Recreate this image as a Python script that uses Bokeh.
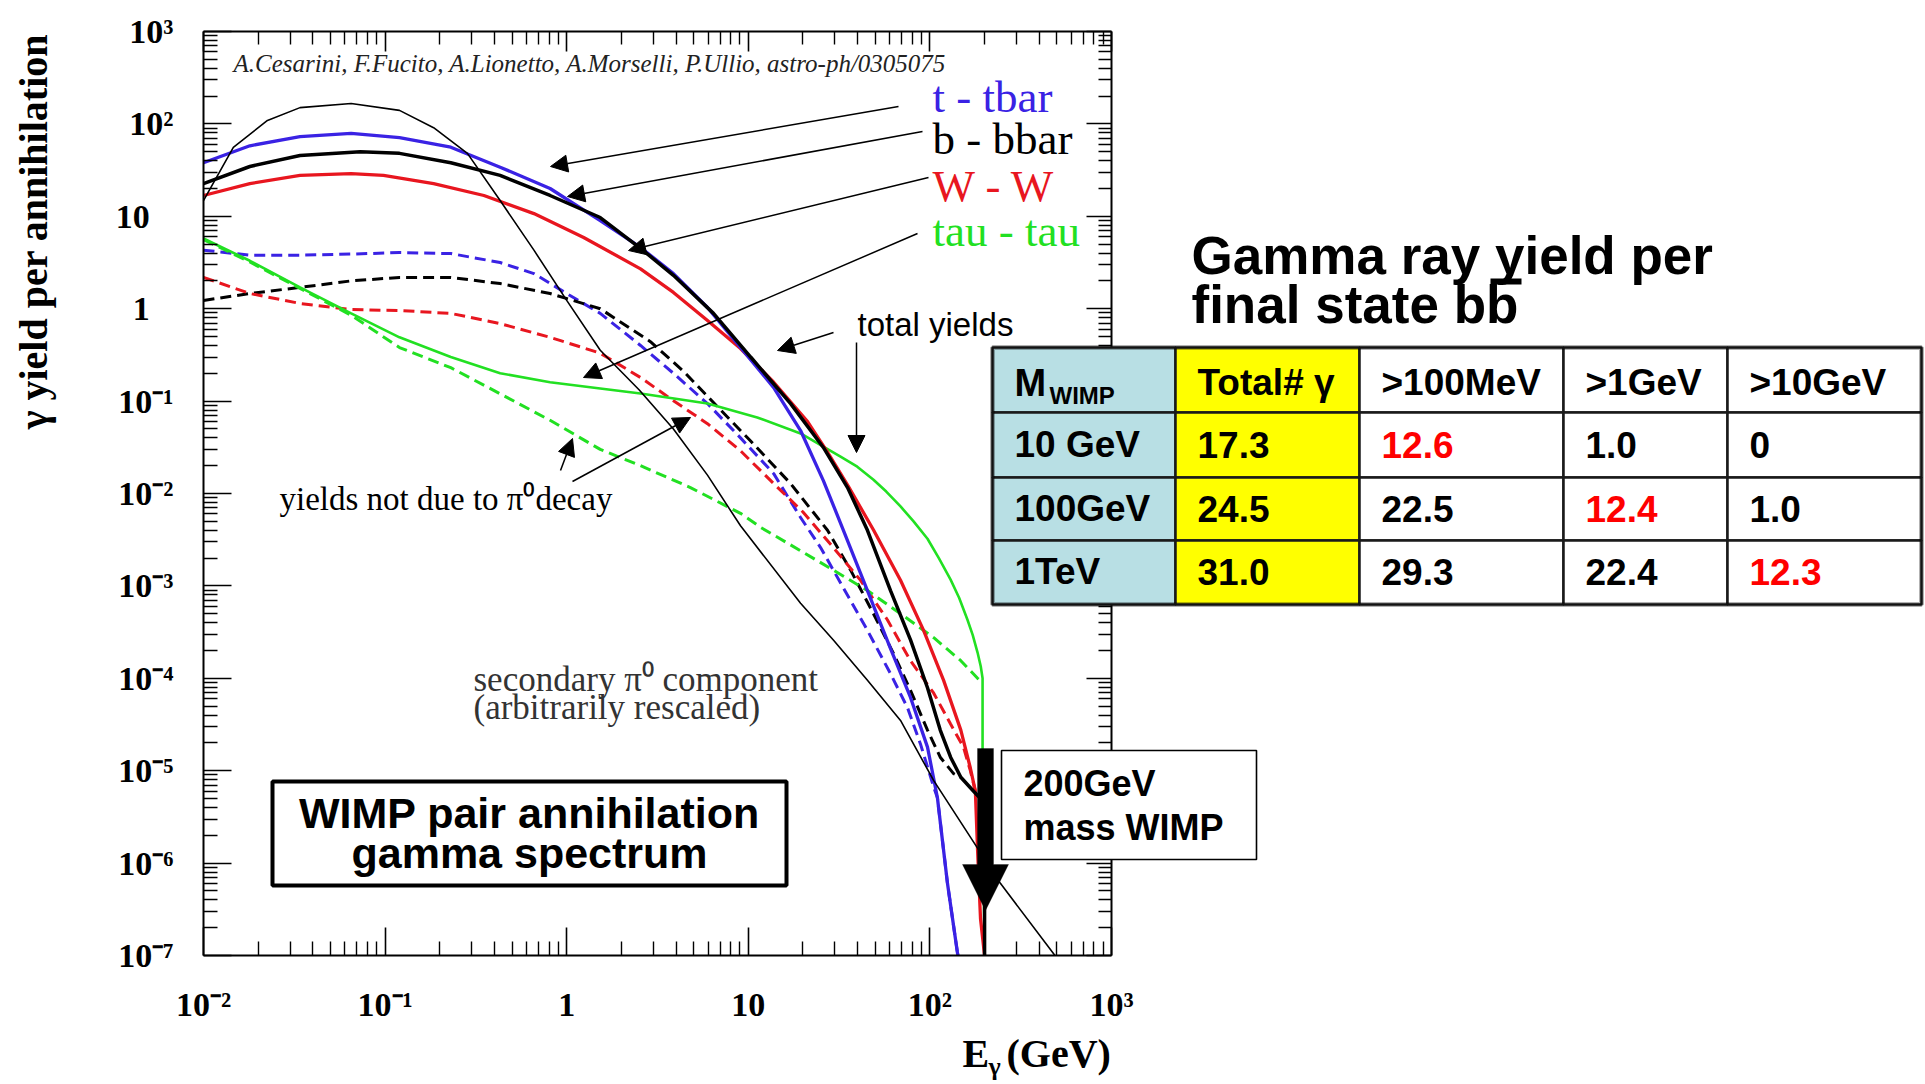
from bokeh.plotting import figure
from bokeh.models import (FixedTicker, LogAxis, CustomJSTickFormatter, Label,
                          BoxAnnotation, PolyAnnotation, Arrow, NormalHead)
from bokeh.embed import file_html
from bokeh.resources import INLINE

# ---------------- data ----------------
# total yields (solid)
tt_e = [0.01, 0.018, 0.034, 0.065, 0.12, 0.23, 0.43, 0.81, 1.53, 2.55, 3.87, 5.96, 9.06, 13.8,
        19.4, 25.9, 33.4, 45.3, 60.7, 78.2, 97.0, 110, 125, 142, 143]
tt_y = [38, 58, 73, 79, 71, 56, 34, 20, 9.0, 4.6, 2.4, 1.03, 0.38, 0.14,
        0.048, 0.0138, 0.0040, 8.9e-4, 2.1e-4, 6.2e-5, 1.8e-5, 5.1e-6, 6.0e-7, 1.05e-7, 1e-7]

bb_e = [0.01, 0.018, 0.034, 0.073, 0.12, 0.23, 0.43, 0.81, 1.53, 2.55, 3.87, 6.43, 10.3, 17.1,
        25.9, 35.2, 45.3, 60.7, 78.2, 97, 114, 130, 148, 174, 200, 200]
bb_y = [22.6, 34.6, 45.5, 50, 48, 38, 27.7, 16.8, 9.7, 4.5, 2.3, 0.89, 0.30, 0.094,
        0.0315, 0.0116, 0.0040, 8.9e-4, 2.6e-4, 7.9e-5, 2.75e-5, 1.4e-5, 8.5e-6, 6.0e-6, 4.5e-6, 1e-7]

ww_e = [0.01, 0.018, 0.034, 0.065, 0.098, 0.185, 0.35, 0.66, 1.24, 2.55, 3.87, 5.96, 9.06, 13.8,
        21.2, 27.3, 35.5, 49, 68.9, 92.3, 119, 148, 167, 178, 183, 190, 200]
ww_y = [16.8, 22.6, 27.7, 29, 27.7, 22.6, 16.8, 10.7, 5.9, 2.7, 1.5, 0.745, 0.37, 0.16,
        0.060, 0.028, 0.012, 0.0040, 0.00115, 3.3e-4, 9.5e-5, 2.75e-5, 1.07e-5, 6.0e-6, 1.4e-6, 2.5e-7, 1e-7]

tau_e = [0.01, 0.018, 0.034, 0.065, 0.12, 0.23, 0.43, 0.81, 1.53, 2.55, 5.96, 11.2, 19.4, 32.2,
         39.8, 48.9, 57.5, 68.9, 81.3, 97, 112, 130, 145, 161, 172, 183, 190.5, 195, 195, 200]
tau_y = [5.75, 3.3, 1.7, 0.89, 0.49, 0.30, 0.20, 0.16, 0.137, 0.121, 0.094, 0.0665, 0.0447, 0.0251,
         0.0195, 0.0141, 0.0105, 0.00724, 0.0050, 0.00324, 0.0020, 0.00117, 7.4e-4, 4.3e-4, 2.95e-4,
         1.9e-4, 1.35e-4, 1.0e-4, 1.8e-5, 1e-7]

# yields not due to pi0 decay (dashed)
ttd_e = [0.01, 0.018, 0.034, 0.065, 0.12, 0.23, 0.43, 0.66, 1.0, 1.53, 2.55, 3.87, 5.96, 9.06,
         13.8, 19.4, 25, 33.4, 45.3, 60.7, 75.3, 88.7, 101, 105, 110, 125, 142, 143]
ttd_y = [4.3, 3.8, 3.8, 3.9, 4.05, 3.95, 3.16, 2.4, 1.46, 0.89, 0.40, 0.20, 0.094, 0.040,
         0.0164, 0.0055, 0.0026, 9.5e-4, 3.3e-4, 1.12e-4, 4.8e-5, 1.95e-5, 8.5e-6, 6.6e-6, 5.1e-6,
         6.0e-7, 1.05e-7, 1e-7]

bbd_e = [0.01, 0.018, 0.034, 0.065, 0.12, 0.23, 0.43, 0.81, 1.53, 2.89, 4.4, 6.76, 10.3, 17.1,
         27.3, 36.6, 48.9, 63, 78.2, 97, 114, 135, 148]
bbd_y = [1.23, 1.46, 1.7, 2.0, 2.18, 2.18, 1.87, 1.46, 1.0, 0.44, 0.21, 0.087, 0.037, 0.0128,
         0.0040, 0.00148, 5.0e-4, 1.86e-4, 7.4e-5, 2.75e-5, 1.4e-5, 9.3e-6, 8.5e-6]

wwd_e = [0.01, 0.018, 0.034, 0.065, 0.12, 0.23, 0.43, 0.81, 1.53, 2.55, 3.87, 5.96, 9.06, 13.8,
         20, 29.4, 41.5, 58.3, 78.2, 105, 130, 153, 167, 178]
wwd_y = [2.18, 1.46, 1.14, 0.98, 0.955, 0.89, 0.69, 0.49, 0.33, 0.18, 0.101, 0.057, 0.029, 0.0128,
         0.0063, 0.0026, 0.00115, 4.3e-4, 1.55e-4, 6.9e-5, 3.2e-5, 1.8e-5, 1.0e-5, 6.0e-6]

taud_e = [0.01, 0.018, 0.034, 0.065, 0.12, 0.23, 0.43, 0.81, 1.53, 2.55, 4.8, 9.06, 11.7, 19.4,
          29.4, 45.3, 68.9, 105, 148, 183, 195]
taud_y = [5.6, 3.2, 1.66, 0.85, 0.38, 0.23, 0.12, 0.062, 0.030, 0.020, 0.0116, 0.0061, 0.0043, 0.0024,
          0.00148, 8.9e-4, 5.0e-4, 2.75e-4, 1.55e-4, 1.0e-4, 9.0e-5]

# secondary pi0 component (arbitrarily rescaled)
sec_e = [0.01, 0.0146, 0.0225, 0.034, 0.065, 0.12, 0.185, 0.284, 0.43, 0.66, 1.0, 1.53, 2.51, 3.87,
         5.96, 9.06, 19.4, 29.4, 45.3, 68.9, 105, 245, 479, 488]
sec_y = [14.8, 55.6, 109, 150, 166, 140, 91, 48, 14.8, 4.3, 1.23, 0.355, 0.132, 0.050,
         0.0158, 0.00447, 6.5e-4, 2.6e-4, 9.5e-5, 3.5e-5, 7.8e-6, 6.0e-7, 1.05e-7, 1e-7]

# ticks
x_decades = [1e-2, 1e-1, 1e0, 1e1, 1e2, 1e3]
y_decades = [1e-7, 1e-6, 1e-5, 1e-4, 1e-3, 1e-2, 1e-1, 1e0, 1e1, 1e2, 1e3]

# table
table_title = ["Gamma ray yield per", "final state bb"]
table_header = ["Total# \u03b3", ">100MeV", ">1GeV", ">10GeV"]
wimp_mass = ["10 GeV", "100GeV", "1TeV"]
total_gamma = ["17.3", "24.5", "31.0"]
above_100mev = ["12.6", "22.5", "29.3"]
above_1gev = ["1.0", "12.4", "22.4"]
above_10gev = ["0", "1.0", "12.3"]
highlight_col = [2, 3, 4]

# ---------------- layout ----------------
W, H = 1925, 1084
FL, FR, FT, FB = 203, 1111, 31, 955          # where the axes box sits on the page
XMIN, XMAX, YMIN, YMAX = -2, 3, -7, 3         # log10 limits of the axes box


def X(px):
    return 10 ** (XMIN + (XMAX - XMIN) * (px - FL) / (FR - FL))


def Y(py):
    return 10 ** (YMAX - (YMAX - YMIN) * (py - FT) / (FB - FT))


BLUE = "#3a22e4"
RED = "#e8161f"
GREEN = "#22e022"
SERIF = "Liberation Serif"
SANS = "Liberation Sans"

# the frame fills the page; the four log axes are pinned at the box edges
p = figure(width=W, height=H, x_axis_type="log", y_axis_type="log",
           x_axis_location=None, y_axis_location=None,
           x_range=(X(0), X(W)), y_range=(Y(H), Y(0)),
           min_border_left=0, min_border_right=0, min_border_top=0, min_border_bottom=0,
           output_backend="svg", toolbar_location=None)
p.background_fill_color = "white"
p.border_fill_color = "white"
p.outline_line_color = None
p.grid.visible = False

FMT = """
const e = Math.round(Math.log10(tick));
const sup = {"-": "\u207b", "0": "\u2070", "1": "\u00b9", "2": "\u00b2", "3": "\u00b3", "4": "\u2074",
             "5": "\u2075", "6": "\u2076", "7": "\u2077", "8": "\u2078", "9": "\u2079"};
if (e === 0) return "1" + PAD;
if (e === 1) return "10" + PAD;
return "10" + String(e).split("").map(c => sup[c]).join("");
"""

x_minor = [m * d for d in x_decades[:-1] for m in range(2, 10)]
y_minor = [m * d for d in y_decades[:-1] for m in range(2, 10)]
x_bounds = (x_decades[0], x_decades[-1])
y_bounds = (y_decades[0], y_decades[-1])


def make_axis(side, ticks, minor, bounds, loc, major_in, minor_in, pad=None):
    ax = LogAxis(ticker=FixedTicker(ticks=ticks, minor_ticks=minor), bounds=bounds,
                 fixed_location=loc)
    if pad is None:
        ax.formatter = CustomJSTickFormatter(code="return '';")
        ax.major_label_text_font_size = "0px"
        ax.major_label_standoff = 0
    else:
        ax.formatter = CustomJSTickFormatter(code=f"const PAD = '{pad}';" + FMT)
        ax.major_label_text_font = SERIF
        ax.major_label_text_font_style = "bold"
        ax.major_label_text_font_size = "34px"
        ax.major_label_text_color = "black"
        ax.major_label_standoff = 30
    ax.axis_line_width = 2
    ax.axis_line_color = "black"
    ax.major_tick_in = major_in
    ax.major_tick_out = 0
    ax.minor_tick_in = minor_in
    ax.minor_tick_out = 0
    ax.major_tick_line_width = 1.6
    ax.minor_tick_line_width = 1.4
    ax.major_tick_line_color = "black"
    ax.minor_tick_line_color = "black"
    p.add_layout(ax, side)


make_axis("below", x_decades, x_minor, x_bounds, y_bounds[0], 28, 14, pad="")
make_axis("left", y_decades, y_minor, y_bounds, x_bounds[0], 28, 14, pad="\\u2009\\u2007")
make_axis("above", x_decades, x_minor, x_bounds, y_bounds[1], 20, 13)
make_axis("right", y_decades, y_minor, y_bounds, x_bounds[1], 25, 13)

# ---------------- curves ----------------
DASH = "11 6"
p.line(ttd_e, ttd_y, line_color=BLUE, line_width=3, line_dash=DASH)
p.line(bbd_e, bbd_y, line_color="black", line_width=3, line_dash=DASH)
p.line(wwd_e, wwd_y, line_color=RED, line_width=3, line_dash=DASH)
p.line(taud_e, taud_y, line_color=GREEN, line_width=3, line_dash=DASH)
p.line(tau_e, tau_y, line_color=GREEN, line_width=2.6)
p.line(ww_e, ww_y, line_color=RED, line_width=3.3)
p.line(tt_e, tt_y, line_color=BLUE, line_width=3.3)
p.line(bb_e, bb_y, line_color="black", line_width=3.5)
p.line(sec_e, sec_y, line_color="black", line_width=1.6)


# ---------------- annotations ----------------
def label(px, py, text, size, color="black", font=SERIF, style="normal", align="left", angle=0):
    p.add_layout(Label(x=X(px), y=Y(py), text=text, text_font=font, text_font_size=f"{size}px",
                       text_font_style=style, text_color=color, text_align=align,
                       text_baseline="middle", angle=angle, angle_units="deg"))


def arrow(x0, y0, x1, y1):
    p.add_layout(Arrow(end=NormalHead(size=17, fill_color="black", line_color="black", line_width=1),
                       x_start=X(x0), y_start=Y(y0), x_end=X(x1), y_end=Y(y1),
                       line_width=1.5, line_color="black"))


def box(l, t, r, b, fill="white", lw=2.0, lc="black"):
    p.add_layout(BoxAnnotation(left=X(l), right=X(r), top=Y(t), bottom=Y(b),
                               fill_color=fill, fill_alpha=1.0 if fill else 0.0,
                               line_color=lc, line_width=lw, line_alpha=1.0 if lw else 0.0))


label(233, 63, "A.Cesarini, F.Fucito, A.Lionetto, A.Morselli, P.Ullio, astro-ph/0305075", 25,
      color="#222222", style="italic")

label(932, 96, "t - tbar", 45, color=BLUE)
label(932, 138, "b - bbar", 45, color="black")
label(932, 185, "W - W", 45, color=RED)
label(932, 230, "tau - tau", 45, color=GREEN)
arrow(898, 106, 550, 166)
arrow(922, 131, 567, 196)
arrow(928, 177, 628, 250)
arrow(917, 233, 583, 377)

label(857, 324, "total yields", 33, font=SANS)
arrow(833, 332, 777, 350)
arrow(856, 342, 856, 452)

label(279, 498, "yields not due to \u03c0\u2070decay", 33)
arrow(560, 470, 572, 438)
arrow(572, 481, 690, 417)

label(473, 679, "secondary \u03c0\u2070 component", 35, color="#333333")
label(473, 707, "(arbitrarily rescaled)", 35, color="#333333")

# WIMP box
box(272, 781, 786, 885, lw=4)
label(529, 812, "WIMP pair annihilation", 43, font=SANS, style="bold", align="center")
label(529, 852, "gamma spectrum", 43, font=SANS, style="bold", align="center")

# 200 GeV arrow + box
p.add_layout(PolyAnnotation(xs=[X(977), X(993), X(993), X(1008), X(985), X(962), X(977)],
                            ys=[Y(748), Y(748), Y(864), Y(864), Y(910), Y(864), Y(864)],
                            fill_color="black", fill_alpha=1.0, line_color="black", line_width=1))
box(1001, 750, 1256, 859, lw=1.6)
label(1023, 783, "200GeV", 36, font=SANS, style="bold")
label(1023, 827, "mass WIMP", 36, font=SANS, style="bold")

# axis titles
label(33, 231, "\u03b3 yield per annihilation", 40, style="bold", align="center", angle=90)
label(962, 1053, "E", 40, style="bold")
label(988, 1066, "\u03b3", 26, style="bold")
label(1006, 1053, "(GeV)", 40, style="bold")

# table title (the bar over the second b marks the antiquark)
label(1191, 255, table_title[0], 53, font=SANS, style="bold")
label(1191, 304, table_title[1], 53, font=SANS, style="bold")
box(1490, 278, 1521, 284, fill="black", lw=0)

col_edges = [992, 1175, 1359, 1563, 1727, 1921]
row_edges = [347, 412, 477, 540, 604]
row_mid = [382, 444, 508, 571]
col_fill = ["#b8dfe4", "#ffff00", "white", "white", "white"]
for r in range(4):
    for c in range(5):
        box(col_edges[c], row_edges[r], col_edges[c + 1], row_edges[r + 1],
            fill=col_fill[c], lw=2.5, lc="#1a1a1a")
p.add_layout(BoxAnnotation(left=X(col_edges[0]), right=X(col_edges[-1]), top=Y(row_edges[0]),
                           bottom=Y(row_edges[-1]), fill_alpha=0.0, line_color="black", line_width=5))

TX = [c + 22 for c in col_edges[:-1]]
label(TX[0], row_mid[0], "M", 38, font=SANS, style="bold")
label(TX[0] + 35, row_mid[0] + 13, "WIMP", 24, font=SANS, style="bold")
for c, h in enumerate(table_header):
    label(TX[c + 1], row_mid[0], h, 37, font=SANS, style="bold")
cols = [wimp_mass, total_gamma, above_100mev, above_1gev, above_10gev]
for r in range(3):
    for c in range(5):
        color = "#ff0000" if highlight_col[r] == c else "black"
        label(TX[c], row_mid[r + 1], cols[c][r], 37, color=color, font=SANS, style="bold")

open("out.html", "w", encoding="utf-8").write(file_html(p, INLINE))
